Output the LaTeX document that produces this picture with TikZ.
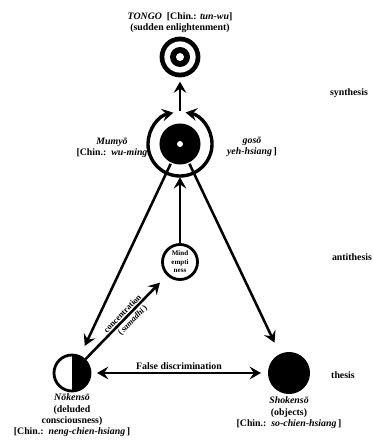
\documentclass[tikz,border=0pt]{standalone}
\usepackage{fontspec}
\setmainfont{Liberation Serif}
\usetikzlibrary{arrows.meta}
\begin{document}
\begin{tikzpicture}[x=0.025cm, y=0.025cm, >={Stealth[length=8pt,width=9pt,inset=3pt]}, line join=round]
				\def\txt{\fontsize{7}{8}\selectfont\bfseries}
				\tikzset{lbl/.style={font=\txt, align=center, inner sep=0pt},
					small/.style={font=\fontsize{6}{6.5}\selectfont\bfseries, inner sep=0pt},
					heavy/.style={line width=1.8pt},
					disc/.style={circle, inner sep=0pt, line width=2pt}}
				\useasboundingbox (0,0) rectangle (373,442);
				% the four circles
				\node[disc, fill=black, minimum size=1.02cm] (tongo) at (180,385) {};
				\fill[white] (tongo.center) circle (0.39cm);
				\fill[black] (tongo.center) circle (0.25cm);
				\fill[white] (tongo.center) circle (0.1cm);
				\node[disc, fill=black, minimum size=1.025cm] (mid) at (180,298) {};
				\fill[white] (mid.center) circle (0.075cm);
				\node[circle, inner sep=0pt, minimum size=1.65cm] (ring) at (mid.center) {};
				\draw[line width=2.4pt, ->] (ring.center) ++(-90:0.8cm) arc[start angle=-90, end angle=-258, radius=0.8cm];
				\draw[line width=2.4pt, ->] (ring.center) ++(-90:0.8cm) arc[start angle=-90, end angle=80, radius=0.8cm];
				\node[disc, draw, minimum size=0.875cm, align=center, font=\fontsize{5}{6}\selectfont\bfseries] (mind) at (180,180) {Mind\\empti\\ness};
				\node[disc, draw, minimum size=0.9cm] (nok) at (72,69) {};
				\fill (nok.center) -- ++(0,0.45cm) arc[start angle=90, end angle=-90, radius=0.45cm] -- cycle;
				\node[disc, fill=black, minimum size=1.05cm] (shok) at (289,69) {};
				%
				\draw[heavy, ->, shorten >=2pt] (ring) -- (tongo);
				\draw[heavy, ->] (mind) -- (ring);
				\draw[heavy, ->, shorten >=7.5pt] (mid) -- (nok);
				\draw[heavy, ->, shorten >=8pt] (mid) -- (shok);
				\draw[heavy, ->, shorten >=7pt] (nok) -- node[small, sloped, above=0.8pt, pos=0.5] (conc) {concentration} node[small, sloped, below=1.5pt, pos=0.52] (samadhi) {(\,\textit{samadhi}\,)} (mind);
				\draw[heavy, <->, shorten <=4pt, shorten >=4pt] (nok) -- node[lbl, above=1.5pt] (false) {False discrimination} (shok);
				%
				\node[lbl] (title) at (180,419) {\textit{TONGO}\enspace[Chin.: \textit{tun-wu}]\\(sudden enlightenment)};
				\node[lbl] (mumyo) at (112,294) {\textit{Mumyō}\\{}[Chin.:\enspace\textit{wu-ming}};
				\node[lbl] (goso) at (252,295) {\textit{gosō}\\\textit{yeh-hsiang}\,]};
				\node[lbl, below=1pt] (noklbl) at (nok.south) {\textit{Nōkensō}\\(deluded\\consciousness)\\{}[Chin.:\enspace\textit{neng-chien-hsiang}\,]};
				\node[lbl, below=1pt] (shoklbl) at (shok.south) {\textit{Shokensō}\\(objects)\\{}[Chin.:\enspace\textit{so-chien-hsiang}\,]};
				\node[lbl] (syn) at (349,349) {synthesis};
				\node[lbl] (anti) at (352,185) {antithesis};
				\node[lbl] (thes) at (343,67) {thesis};
		\end{tikzpicture}
\end{document}
